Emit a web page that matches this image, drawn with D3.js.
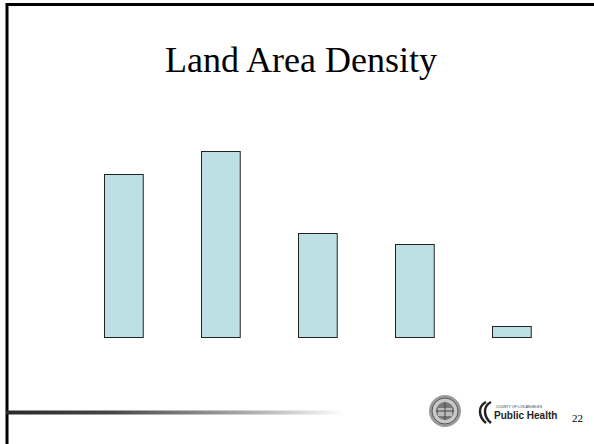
<!DOCTYPE html>
<html>
<head>
<meta charset="utf-8">
<script src="https://cdn.jsdelivr.net/npm/d3@7"></script>
<style>
  html, body { margin: 0; padding: 0; background: #fff; }
  svg { display: block; }
</style>
</head>
<body>
<svg id="chart" width="594" height="444"></svg>
<script>
// Data (no axis shown in the original; values read as relative bar heights)
const categories = ["Group 1", "Group 2", "Group 3", "Group 4", "Group 5"];
const values = [163, 186, 104, 93, 11];
const titleText = "Land Area Density";
const pageNumber = "22";

const svg = d3.select("#chart");
const W = 594, H = 444;

// Slide frame
svg.append("rect")
  .attr("x", 7).attr("y", 4.5)
  .attr("width", W + 10).attr("height", H + 10)
  .attr("fill", "none").attr("stroke", "#000").attr("stroke-width", 3);

// Title
svg.append("text")
  .attr("x", 301).attr("y", 72)
  .attr("text-anchor", "middle")
  .attr("font-family", "'Liberation Serif', 'Times New Roman', serif")
  .attr("font-size", 36)
  .attr("fill", "#000")
  .text(titleText);

// Scales
const x = d3.scaleBand()
  .domain(categories)
  .range([75.2, 559.4])
  .paddingInner(0.6)
  .paddingOuter(0.3);

const y = d3.scaleLinear()
  .domain([0, 186])
  .range([337, 151]);

svg.append("g").selectAll("rect")
  .data(values)
  .join("rect")
  .attr("x", (d, i) => Math.round(x(categories[i])) + 0.5)
  .attr("y", d => Math.round(y(d)) + 0.5)
  .attr("width", x.bandwidth())
  .attr("height", d => y(0) - Math.round(y(d)))
  .attr("fill", "#BCE0E3")
  .attr("stroke", "#222")
  .attr("stroke-width", 1);

// Footer gradient line
const defs = svg.append("defs");
const grad = defs.append("linearGradient").attr("id", "fade")
  .attr("x1", "0%").attr("x2", "100%").attr("y1", "0%").attr("y2", "0%");
grad.append("stop").attr("offset", "0%").attr("stop-color", "#2a2a2a");
grad.append("stop").attr("offset", "30%").attr("stop-color", "#444");
grad.append("stop").attr("offset", "70%").attr("stop-color", "#a8a8a8");
grad.append("stop").attr("offset", "100%").attr("stop-color", "#fff");
svg.append("rect")
  .attr("x", 6).attr("y", 410.5)
  .attr("width", 340).attr("height", 4)
  .attr("fill", "url(#fade)");

// Seal logo
const seal = svg.append("g").attr("transform", "translate(445,411)");
seal.append("circle").attr("r", 16).attr("fill", "#9a9a9a");
seal.append("circle").attr("r", 13).attr("fill", "#c8c8c8").attr("stroke", "#555").attr("stroke-width", 1);
seal.append("circle").attr("r", 9).attr("fill", "#777");
seal.append("rect").attr("x", -7).attr("y", -3).attr("width", 14).attr("height", 8).attr("fill", "#bbb");
seal.append("line").attr("x1", -9).attr("x2", 9).attr("y1", 0).attr("y2", 0).attr("stroke", "#444");
seal.append("line").attr("x1", 0).attr("x2", 0).attr("y1", -9).attr("y2", 9).attr("stroke", "#444");

// Public Health logo
const ph = svg.append("g");
ph.append("path")
  .attr("d", "M486,402 C478,406 478,416 486,423 M491,402 C483,406 483,416 491,423")
  .attr("fill", "none").attr("stroke", "#222").attr("stroke-width", 2.5);
ph.append("text")
  .attr("x", 496).attr("y", 408)
  .attr("font-family", "'Liberation Sans', Arial, sans-serif")
  .attr("font-size", 4).attr("fill", "#333")
  .attr("textLength", 46).attr("lengthAdjust", "spacingAndGlyphs")
  .text("COUNTY OF LOS ANGELES");
ph.append("text")
  .attr("x", 494).attr("y", 419)
  .attr("font-family", "'Liberation Sans', Arial, sans-serif")
  .attr("font-weight", "bold")
  .attr("font-size", 10).attr("fill", "#222")
  .text("Public Health");

// Page number
svg.append("text")
  .attr("x", 572).attr("y", 422)
  .attr("font-family", "'Liberation Serif', 'Times New Roman', serif")
  .attr("font-size", 11).attr("fill", "#000")
  .text(pageNumber);
</script>
</body>
</html>
